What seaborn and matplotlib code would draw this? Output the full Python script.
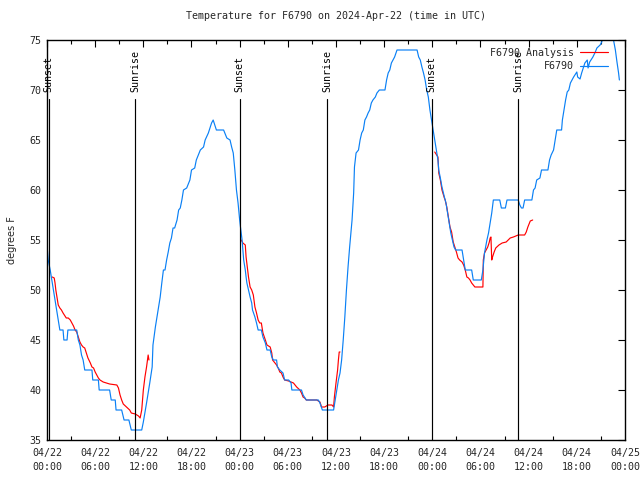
import numpy as np
import pandas as pd
import matplotlib
matplotlib.use("Agg")
import matplotlib.pyplot as plt
import seaborn as sns
from matplotlib.lines import Line2D
from matplotlib.ticker import MultipleLocator

# ---------------- data (hours since 04/22 00:00 UTC) ----------------
obs_hours = [0.05, 0.15, 0.4, 0.6, 0.8, 1.0, 1.2, 1.4, 1.6, 2.0, 2.1, 2.5, 2.6, 3.7, 3.9, 4.1, 4.3, 4.5, 4.7, 5.6,
             5.7, 6.4, 6.5, 7.8, 8.0, 8.5, 8.6, 9.3, 9.6, 10.2, 10.5, 11.8, 12.0, 12.4, 12.8, 13.1, 13.2, 13.5, 13.7,
             13.9, 14.1, 14.3, 14.5, 14.7, 14.9, 15.1, 15.3, 15.5, 15.7, 15.9, 16.2, 16.4, 16.6, 16.8, 17.0, 17.4,
             17.8, 18.0, 18.4, 18.6, 19.1, 19.5, 19.7, 20.1, 20.5, 20.7, 20.9, 21.1, 22.0, 22.4, 22.8, 23.0, 23.2,
             23.4, 23.6, 23.8, 24.0, 24.1, 24.3, 24.4, 24.5, 24.7, 24.8, 24.9, 25.1, 25.3, 25.5, 25.6, 25.9, 26.1,
             26.3, 26.7, 26.9, 27.2, 27.4, 27.8, 28.0, 28.2, 28.6, 28.7, 29.0, 29.4, 29.6, 30.1, 30.4, 30.5, 31.7,
             31.9, 32.3, 33.8, 34.0, 34.3, 35.7, 35.8, 36.1, 36.3, 36.5, 36.7, 36.9, 37.1, 37.3, 37.5, 37.7, 38.0,
             38.2, 38.3, 38.5, 38.8, 39.0, 39.2, 39.4, 39.6, 39.8, 40.0, 40.2, 40.4, 40.6, 40.9, 41.1, 41.4, 42.1,
             42.3, 42.5, 42.7, 42.9, 43.1, 43.3, 43.6, 46.1, 46.3, 46.5, 46.7, 46.9, 47.1, 47.3, 47.5, 47.7, 47.9,
             48.1, 48.3, 48.5, 48.7, 48.8, 49.0, 49.2, 49.5, 49.7, 49.9, 50.1, 50.3, 50.5, 50.7, 50.9, 51.7, 51.9,
             52.1, 52.9, 53.1, 54.1, 54.3, 54.5, 54.8, 55.0, 55.2, 55.4, 55.6, 56.4, 56.6, 57.1, 57.3, 58.7, 58.9,
             59.1, 59.3, 59.5, 60.4, 60.6, 60.8, 61.0, 61.4, 61.6, 62.4, 62.6, 62.8, 63.1, 63.3, 63.5, 64.1, 64.2,
             64.4, 64.6, 64.8, 65.0, 65.2, 65.4, 65.6, 66.0, 66.1, 66.4, 66.6, 66.8, 67.0, 67.3, 67.4, 67.6, 68.0,
             68.3, 68.5, 68.9, 69.1, 69.3, 69.8, 70.2, 70.5, 70.8, 71.0, 71.2, 71.3]
obs_temp = [54, 53, 52, 51, 50, 49, 48, 47, 46, 46, 45, 45, 46, 46, 45, 44.5, 43.5, 43, 42, 42,
            41, 41, 40, 40, 39, 39, 38, 38, 37, 37, 36, 36, 36.8, 38.7, 40.7, 42.3, 44.5, 46.3, 47.3,
            48.3, 49.3, 50.7, 52, 52, 53, 53.8, 54.7, 55.2, 56.2, 56.2, 57, 58, 58.2, 59, 60, 60.2,
            61, 62, 62.2, 63, 64, 64.3, 65, 65.7, 66.7, 67, 66.5, 66, 66, 65.2, 65, 64.3, 63.7,
            62, 60, 58.7, 57, 56.3, 55, 54, 53, 52, 51.3, 50.7, 50, 49.3, 48.7, 48, 47.3, 46.7,
            46, 46, 45.3, 44.7, 44, 44, 43.3, 43, 43, 42.3, 42, 41.7, 41, 41, 40.7, 40, 40,
            39.5, 39, 39, 38.7, 38, 38, 38.5, 40, 41, 41.7, 43, 45, 47.3, 50, 52.3, 54.3, 57,
            59.7, 62.3, 63.7, 64, 65, 65.7, 66, 67, 67.3, 67.7, 68, 68.7, 69, 69.3, 69.7, 70, 70,
            71, 71.7, 72, 72.7, 73, 73.3, 74, 74, 73.3, 73, 72.3, 71.7, 71, 70, 69.3, 68, 67,
            66, 65, 64, 63, 62, 61.2, 60.3, 59.3, 58.7, 57.7, 56.7, 55.7, 55, 54.3, 54, 54, 53,
            52, 52, 51, 51, 52, 53.7, 55, 55.7, 56.7, 57.7, 59, 59, 58.2, 58.2, 59, 59, 58.5,
            58.2, 58.2, 59, 59, 60, 60.2, 61, 61.2, 62, 62, 63, 63.5, 64, 65, 66, 66, 67,
            68, 69, 69.8, 70, 70.7, 71, 71.3, 71.8, 71.3, 71.1, 71.7, 72.2, 72.7, 73, 72.2, 72.8, 73.3,
            73.8, 74.2, 74.5, 74.8, 75.5, 76, 76, 75.3, 74, 72.8, 71.7, 71]

ana1_hours = [0.66, 0.9, 1.0, 1.1, 1.3, 1.4, 1.6, 1.8, 2.0, 2.4, 2.65, 2.9, 3.1, 3.3, 3.5, 3.7, 3.9, 4.1, 4.3,
              4.5, 4.7, 4.9, 5.1, 5.4, 5.6, 5.8, 6.0, 6.2, 6.4, 6.6, 7.0, 7.4, 7.8, 8.7, 8.9, 9.1, 9.3, 9.5,
              9.9, 10.3, 10.5, 11.0, 11.4, 11.6, 11.8, 12.0, 12.2, 12.4, 12.6, 12.7]
ana1_temp = [51.3, 51.2, 50.7, 50, 49, 48.5, 48.2, 48, 47.7, 47.2, 47.2, 47, 46.7, 46.4, 46, 45.8, 45.3, 44.8, 44.5,
             44.3, 44.2, 43.7, 43.2, 42.7, 42.3, 42.2, 41.8, 41.5, 41.2, 41, 40.8, 40.7, 40.6, 40.5, 40.2, 39.5, 39, 38.6,
             38.3, 38, 37.7, 37.6, 37.4, 37.2, 38, 40, 41.3, 42.3, 43.5, 43]
ana2_hours = [24.2, 24.4, 24.7, 24.8, 24.95, 25.1, 25.3, 25.5, 25.7, 25.9, 26.1, 26.3, 26.5, 26.7, 26.9, 27.2, 27.4,
              27.8, 28.0, 28.1, 28.4, 28.6, 28.8, 29.0, 29.2, 29.4, 29.6, 30.1, 30.7, 31.1, 31.5, 31.7, 31.9, 32.1,
              32.3, 33.6, 34.0, 34.2, 34.6, 35.0, 35.5, 35.7, 35.8, 36.0, 36.2, 36.3, 36.4, 36.5]
ana2_temp = [55, 54.7, 54.5, 53.3, 52.3, 51.3, 50.3, 50, 49.5, 48.3, 47.7, 47, 46.7, 46.7, 45.7, 45, 44.5,
             44.3, 43.7, 43, 42.7, 42.5, 42.2, 41.8, 41.7, 41.3, 41, 40.9, 40.7, 40.3, 40, 39.7, 39.3, 39.2,
             39, 39, 38.8, 38.3, 38.3, 38.5, 38.5, 38.3, 39.3, 40.7, 42, 43, 43.8, 43.8]
ana3_hours = [48.3, 48.7, 48.75, 48.8, 49.0, 49.2, 49.5, 49.6, 49.8, 50.0, 50.2, 50.4, 50.6, 50.8, 51.0, 51.2, 51.4,
              51.7, 51.9, 52.1, 52.3, 52.5, 52.7, 52.9, 53.1, 53.3, 54.3, 54.35, 54.5, 54.7, 54.9, 55.1, 55.2, 55.3,
              55.4, 55.5, 55.7, 55.9, 56.3, 56.7, 57.2, 57.7, 58.1, 58.7, 59.5, 59.7, 59.9, 60.2, 60.5]
ana3_temp = [63.8, 63.3, 62.5, 61.7, 61, 60, 59.2, 59, 58.3, 57.3, 56.3, 55.8, 54.8, 54.3, 53.8, 53.2, 53,
             52.8, 52.5, 52, 51.3, 51.2, 51, 50.7, 50.5, 50.3, 50.3, 53, 53.7, 54, 54.3, 54.8, 55.2, 55.3,
             53, 53.3, 53.8, 54.2, 54.5, 54.7, 54.8, 55.2, 55.3, 55.5, 55.5, 55.8, 56.3, 56.9, 57]

sun_labels = ["Sunset", "Sunrise", "Sunset", "Sunrise", "Sunset", "Sunrise"]
sun_hours = [0.2, 11.0, 24.0, 34.9, 47.9, 58.7]

xtick_hours = [0, 6, 12, 18, 24, 30, 36, 42, 48, 54, 60, 66, 72]
xtick_labels = ["04/22\n00:00", "04/22\n06:00", "04/22\n12:00", "04/22\n18:00",
                "04/23\n00:00", "04/23\n06:00", "04/23\n12:00", "04/23\n18:00",
                "04/24\n00:00", "04/24\n06:00", "04/24\n12:00", "04/24\n18:00",
                "04/25\n00:00"]
ytick_values = [35, 40, 45, 50, 55, 60, 65, 70, 75]

title = "Temperature for F6790 on 2024-Apr-22 (time in UTC)"
ylabel = "degrees F"
series_obs = "F6790"
series_ana = "F6790 Analysis"

# ---------------- styling ----------------
sns.set_theme(style="white")
plt.rcParams["font.family"] = ["DejaVu Sans Mono", "DejaVu Sans"]
MONO = 7.2
BLUE = "#0a80f5"
RED = "#ff0000"
LW = 0.85

fig = plt.figure(figsize=(6.4, 4.8), dpi=100)
ax = fig.add_axes([47 / 640, 40 / 480, 578 / 640, 400 / 480])

obs_df = pd.DataFrame({"hour": obs_hours, "temp": obs_temp})
ana_df = pd.concat([
    pd.DataFrame({"hour": ana1_hours, "temp": ana1_temp, "seg": 1}),
    pd.DataFrame({"hour": ana2_hours, "temp": ana2_temp, "seg": 2}),
    pd.DataFrame({"hour": ana3_hours, "temp": ana3_temp, "seg": 3}),
], ignore_index=True)

sns.lineplot(data=ana_df, x="hour", y="temp", units="seg", estimator=None, sort=False,
             color=RED, lw=LW, ax=ax, legend=False)
sns.lineplot(data=obs_df, x="hour", y="temp", estimator=None, sort=False,
             color=BLUE, lw=LW, ax=ax, legend=False)

# sunrise / sunset markers
for lab, h in zip(sun_labels, sun_hours):
    ax.plot([h, h], [35, 69.1], color="black", lw=LW, zorder=3)
    ax.text(h, 69.8, lab, rotation=90, ha="center", va="bottom",
            fontsize=MONO, color="black", clip_on=False, zorder=4)

ax.set_xlim(0, 72)
ax.set_ylim(35, 75)
ax.set_xticks(xtick_hours)
ax.set_xticklabels(xtick_labels, fontsize=MONO, linespacing=1.5)
ax.xaxis.set_minor_locator(MultipleLocator(3))
ax.set_yticks(ytick_values)
ax.set_yticklabels([str(v) for v in ytick_values], fontsize=MONO)
ax.tick_params(axis="both", which="major", direction="in", length=5, width=0.8,
               top=True, right=True, color="black", pad=4)
ax.tick_params(axis="x", which="major", pad=6)
ax.tick_params(axis="x", which="minor", direction="in", length=3, width=0.8,
               top=True, bottom=True, color="black")
ax.set_xlabel("")
ax.set_ylabel(ylabel, fontsize=7, family="DejaVu Sans", labelpad=9)
ax.set_title(title, fontsize=MONO, pad=15)

for s in ax.spines.values():
    s.set_color("black")
    s.set_linewidth(1.0)
    s.set_visible(True)

handles = [Line2D([0], [0], color=RED, lw=LW), Line2D([0], [0], color=BLUE, lw=LW)]
ax.legend(handles, [series_ana, series_obs], loc="upper right", frameon=False,
          markerfirst=False, fontsize=MONO, handlelength=2.8, handletextpad=0.6,
          labelspacing=0.35, borderaxespad=0.4, bbox_to_anchor=(0.985, 1.0))

fig.savefig("out.png", dpi=100)
